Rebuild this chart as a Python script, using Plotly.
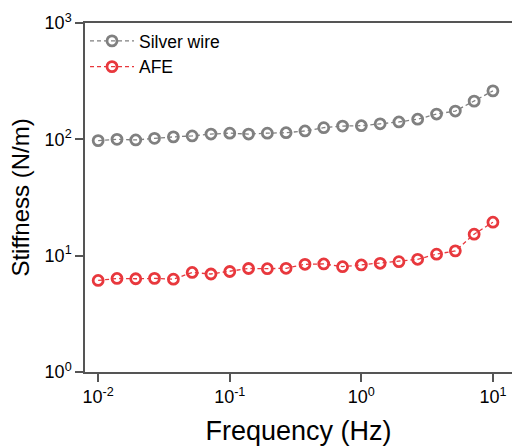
import plotly.graph_objects as go

freq = [0.01, 0.0139, 0.0193, 0.0268, 0.0373, 0.0518, 0.072, 0.1, 0.139, 0.193, 0.268,
        0.373, 0.518, 0.72, 1.0, 1.39, 1.93, 2.68, 3.73, 5.18, 7.2, 10.0]
silver = [97.5, 100, 98.8, 102, 105, 107, 111, 113, 111, 113, 114,
          118, 126, 130, 131, 136, 141, 149, 165, 175, 213, 261]
afe = [6.12, 6.37, 6.33, 6.38, 6.28, 7.17, 6.96, 7.31, 7.76, 7.73, 7.79,
       8.43, 8.49, 8.04, 8.32, 8.60, 8.88, 9.31, 10.3, 11.0, 15.3, 19.4]

series_names = ["Silver wire", "AFE"]
colors = ["#808080", "#E8383D"]

x_tickvals = [0.01, 0.1, 1, 10]
x_ticktext = ["10<sup>-2</sup>", "10<sup>-1</sup>", "10<sup>0</sup>", "10<sup>1</sup>"]
y_tickvals = [1, 10, 100, 1000]
y_ticktext = ["10<sup>0</sup>", "10<sup>1</sup>", "10<sup>2</sup>", "10<sup>3</sup>"]

fig = go.Figure()
for name, vals, c in zip(series_names, [silver, afe], colors):
    fig.add_trace(go.Scatter(
        x=freq, y=vals, name=name, mode="lines+markers",
        line=dict(color=c, width=1.3, dash="4px,3px"),
        marker=dict(symbol="circle-open", size=10, color=c, line=dict(width=2.8, color=c)),
    ))

font = "Arial, Liberation Sans, sans-serif"
fig.update_layout(
    width=512, height=446,
    margin=dict(l=85, r=0, t=23, b=74),
    paper_bgcolor="white", plot_bgcolor="white",
    font=dict(family=font, color="black", size=14),
    showlegend=True,
    legend=dict(x=0.0, y=1.0, xanchor="left", yanchor="top",
                bgcolor="rgba(0,0,0,0)", font=dict(size=17.5, family=font),
                itemwidth=44, tracegroupgap=0),
    xaxis=dict(type="log", range=[-2.1, 1.145], tickvals=x_tickvals, ticktext=x_ticktext,
               showgrid=False, zeroline=False, showline=True, linecolor="#555555",
               linewidth=1.5, mirror=True, ticks="outside", ticklen=8, tickwidth=1.5,
               tickcolor="#555555", tickfont=dict(size=18),
               title=dict(text="Frequency (Hz)", font=dict(size=27), standoff=16)),
    yaxis=dict(type="log", range=[0, 3], tickvals=y_tickvals, ticktext=y_ticktext,
               showgrid=False, zeroline=False, showline=True, linecolor="#555555",
               linewidth=1.5, ticks="outside", ticklen=8, tickwidth=1.5,
               tickcolor="#555555", tickfont=dict(size=18),
               title=dict(text="Stiffness (N/m)", font=dict(size=24), standoff=8)),
)

fig.write_html("out.html")
